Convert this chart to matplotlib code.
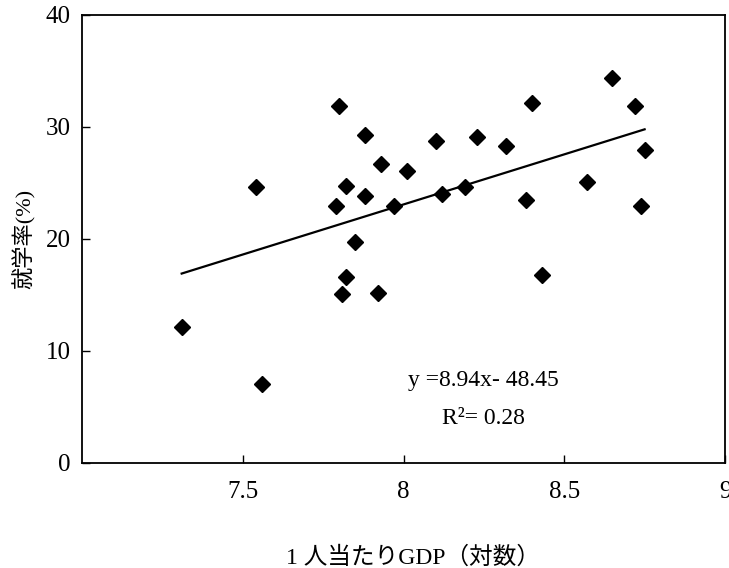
import numpy as np
import matplotlib
matplotlib.use("Agg")
import matplotlib.pyplot as plt

plt.rcParams['font.family'] = ['Liberation Serif', 'Noto Sans CJK JP']

# 1人当たりGDP(対数) と 就学率(%)
gdp_log = [7.31, 7.54, 7.56, 7.80, 7.79, 7.82, 7.82, 7.81, 7.85, 7.88,
           7.88, 7.92, 7.93, 7.97, 8.01, 8.10, 8.12, 8.23, 8.19, 8.32,
           8.38, 8.40, 8.43, 8.57, 8.65, 8.72, 8.75, 8.74]
enroll = [12.1, 24.6, 7.0, 31.9, 22.9, 24.7, 16.6, 15.1, 19.7, 29.3,
          23.8, 15.2, 26.7, 22.9, 26.1, 28.7, 24.0, 29.1, 24.6, 28.3,
          23.5, 32.1, 16.8, 25.1, 34.4, 31.9, 27.9, 22.9]

# 回帰式
slope = 8.94
intercept = -48.45
r2 = 0.28

fig = plt.figure(figsize=(7.29, 5.68), dpi=100)
ax = fig.add_axes([0.1125, 0.185, 0.882, 0.789])

ax.plot(gdp_log, enroll, 'D', color='black', ms=8, zorder=3)

x_fit = np.array([min(gdp_log), max(gdp_log)])
ax.plot(x_fit, slope * x_fit + intercept, color='black', lw=1.6)

ax.text(8.25, 7.4, f"y ={slope}x- {-intercept}", ha='center', va='center', fontsize=17)
ax.text(8.25, 4.0, f"R²= {r2}", ha='center', va='center', fontsize=17)

ax.set_xlim(7, 9)
ax.set_ylim(0, 40)
ax.set_xticks([7.5, 8, 8.5, 9])
ax.set_xticklabels(['7.5', '8', '8.5', '9'])
ax.set_yticks([0, 10, 20, 30, 40])
ax.tick_params(axis='both', direction='in', length=6, width=1, labelsize=18)
ax.tick_params(axis='x', pad=13)
ax.tick_params(axis='y', pad=8)
for s in ax.spines.values():
    s.set_linewidth(1.3)

ax.set_xlabel("1 人当たりGDP（対数）", fontsize=17)
ax.xaxis.set_label_coords(0.515, -0.185)
ax.set_ylabel("就学率(%)", fontsize=16, labelpad=7)

fig.savefig("out.png", dpi=100)
